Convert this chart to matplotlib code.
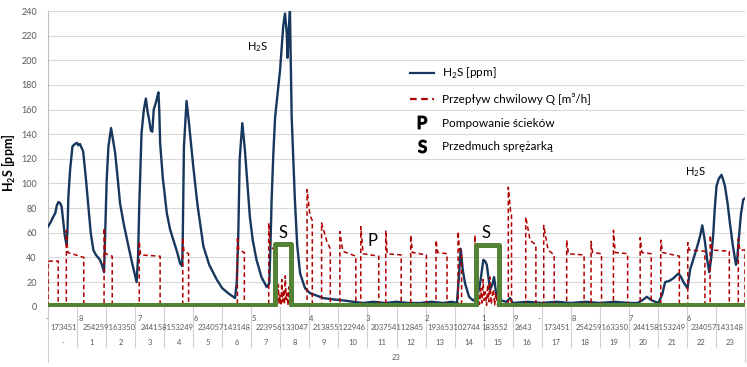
import matplotlib.pyplot as plt
from matplotlib.lines import Line2D

plt.rcParams['font.family'] = ['Lato', 'DejaVu Sans']
plt.rcParams['mathtext.fontset'] = 'custom'
plt.rcParams['mathtext.rm'] = 'Lato'
plt.rcParams['mathtext.bf'] = 'Lato:bold'

# H2S [ppm] against time of day (hours)
h2s_t = [0.00, 0.10, 0.18, 0.25, 0.30, 0.36, 0.42, 0.47, 0.53, 0.58, 0.64, 0.67, 0.70, 0.76, 0.84,
         0.92, 1.00, 1.04, 1.10, 1.21, 1.30, 1.39, 1.47, 1.56, 1.65, 1.79, 1.87, 1.93, 1.97, 2.02,
         2.08, 2.17, 2.22, 2.31, 2.40, 2.48, 2.60, 2.77, 2.90, 3.05, 3.10, 3.14, 3.22, 3.30, 3.37,
         3.43, 3.48, 3.54, 3.59, 3.64, 3.68, 3.74, 3.80, 3.83, 3.86, 3.95, 4.09, 4.20, 4.32, 4.45,
         4.55, 4.62, 4.64, 4.68, 4.77, 4.85, 5.00, 5.15, 5.35, 5.55, 5.81, 6.00, 6.20, 6.44, 6.50,
         6.55, 6.60, 6.69, 6.78, 6.87, 6.95, 7.05, 7.18, 7.35, 7.53, 7.62, 7.66, 7.70, 7.76, 7.82,
         7.90, 7.99, 8.05, 8.10, 8.16, 8.22, 8.25, 8.29, 8.33, 8.39, 8.50, 8.58, 8.68, 8.85, 9.02,
         9.25, 9.48, 9.80, 10.2, 10.5, 10.85, 11.2, 11.6, 12.0, 12.4, 12.8, 13.2, 13.6, 13.9, 14.08,
         14.15, 14.21, 14.28, 14.36, 14.50, 14.64, 14.78, 14.88, 14.99, 15.05, 15.11, 15.22, 15.30,
         15.36, 15.45, 15.60, 15.79, 15.91, 16.0, 16.5, 17.0, 17.5, 18.0, 18.5, 19.0, 19.5, 20.0,
         20.3, 20.45, 20.62, 20.80, 21.02, 21.15, 21.25, 21.40, 21.53, 21.62, 21.71, 21.80, 21.88,
         22.02, 22.11, 22.20, 22.28, 22.37, 22.45, 22.53, 22.57, 22.62, 22.70, 22.77, 22.84, 22.91,
         22.96, 23.02, 23.10, 23.19, 23.25, 23.31, 23.40, 23.48, 23.58, 23.69, 23.73, 23.79, 23.86,
         23.94, 24.0]
h2s_v = [65, 69, 73, 76, 82, 85, 84, 81, 68, 57, 50, 62, 89, 111, 130,
         132, 133, 131, 132, 126, 105, 81, 60, 46, 42, 38, 33, 28, 60, 103,
         130, 145, 138, 125, 104, 84, 68, 49, 35, 20, 40, 81, 141, 160, 169,
         158, 152, 143, 142, 160, 163, 168, 174, 160, 133, 105, 76, 63, 54, 44,
         35, 33, 57, 130, 167, 150, 114, 82, 49, 34, 22, 15, 11, 7, 20,
         57, 120, 149, 127, 98, 73, 54, 38, 24, 16, 19, 50, 87, 125, 154,
         172, 192, 212, 228, 238, 222, 202, 225, 240, 154, 87, 50, 27, 15, 11,
         9, 7, 6, 5, 4, 3, 4, 3, 4, 3, 3, 4, 3, 4, 3,
         25, 47, 30, 19, 8, 5, 8, 19, 38, 37, 34, 14, 18,
         24, 7, 5, 4, 7, 3, 4, 3, 4, 3, 4, 3, 4, 3,
         3, 5, 8, 5, 3, 10, 20, 21, 23, 25, 27, 24, 20,
         15, 30, 37, 43, 50, 57, 66, 60, 53, 38, 28, 40, 60,
         80, 98, 104, 107, 103, 98, 84, 68, 50, 34, 38, 56, 75,
         87, 88]

# pumping cycles of the flow Q [m3/h]
q_on = [0.00, 0.63, 1.93, 3.14, 4.64, 6.52, 7.60, 8.92, 9.42, 10.05, 10.77, 11.63, 12.49, 13.36,
        14.12, 14.70, 15.85, 16.45, 17.07, 17.86, 18.70, 19.47, 20.39, 21.10, 22.03, 22.80, 23.77]
q_peak = [37, 62, 64, 53, 56, 57, 68, 95, 68, 61, 65, 62, 58, 54,
          61, 58, 97, 73, 66, 54, 53, 62, 56, 54, 52, 58, 55]
q_knee = [0.02, 0.68, 1.98, 3.19, 4.68, 6.57, 7.65, 9.02, 9.60, 10.15, 10.85, 11.68, 12.55, 13.42,
          14.17, 14.73, 15.93, 16.60, 17.22, 17.92, 18.75, 19.53, 20.45, 21.16, 22.08, 22.86, 23.82]
q_level = [37, 44, 43, 42, 45, 46, 49, 74, 53, 45, 43, 43, 44, 44,
           46, 40, 77, 54, 46, 43, 44, 44, 44, 44, 46, 46, 46]
q_off = [0.35, 1.23, 2.21, 3.86, 4.84, 6.76, 7.80, 9.10, 9.72, 10.60, 11.39, 12.16, 13.03, 13.74,
         14.24, 14.76, 15.96, 16.80, 17.43, 18.46, 19.06, 19.96, 20.77, 21.74, 22.62, 23.46, 24.00]
q_end = [37, 40, 41, 41, 43, 44, 46, 70, 47, 41, 41, 42, 42, 43,
         45, 38, 75, 50, 42, 42, 43, 43, 43, 41, 45, 45, 46]

# flow noise while the compressor blows
noise_t = [7.84, 7.87, 7.90, 7.93, 7.96, 7.99, 8.02, 8.05, 8.08, 8.11, 8.14, 8.17, 8.20, 8.23,
           8.26, 8.29, 8.32, 8.35,
           14.79, 14.82, 14.86, 14.90, 14.94, 14.98, 15.02, 15.06, 15.10, 15.14, 15.18, 15.22,
           15.26, 15.30, 15.34, 15.38, 15.42, 15.46, 15.50]
noise_v = [0, 12, 2, 18, 3, 9, 1, 22, 4, 14, 2, 25, 6, 11, 1, 16, 3, 0,
           0, 10, 2, 15, 3, 22, 5, 12, 1, 18, 4, 24, 2, 9, 14, 1, 11, 3, 0]

# compressor blow (S)
blow_t = [0, 7.82, 7.82, 8.37, 8.37, 14.74, 14.74, 15.53, 15.53, 24]
blow_v = [1, 1, 51, 51, 1, 1, 50, 50, 1, 1]

# multi-level category labels
row1_t = [-0.05, 1.14, 3.15, 5.10, 7.07, 9.06, 11.03, 13.04, 14.99, 16.12, 16.92, 18.09, 20.07, 22.08]
row1 = ['-', '8', '7', '6', '5', '4', '3', '2', '1', '9', '-', '8', '7', '6']
row2_t = [0.55, 2.09, 4.09, 6.07, 8.05, 10.03, 12.01, 13.99, 15.39, 16.36, 17.52, 19.09, 21.06, 23.04]
row2 = ['173451', '254259163350', '244158153249', '234057143148', '223956133047', '213855122946',
        '203754112845', '193653102744', '183552', '2643', '173451', '254259163350',
        '244158153249', '234057143148']
hours = ['-'] + [str(i) for i in range(1, 24)]

navy = '#17375E'
red = '#B00000'
green = '#548235'
grey = '#595959'

# build the stepped flow series
pts = []
for i in range(len(q_on)):
    pts += [(q_on[i], 0), (q_on[i], q_peak[i]), (q_knee[i], q_level[i]),
            (q_off[i], q_end[i]), (q_off[i], 0)]
pts += list(zip(noise_t, noise_v))
pts = sorted(pts, key=lambda p: p[0])
flow_t = [p[0] for p in pts]
flow_v = [p[1] for p in pts]

fig = plt.figure(figsize=(7.47, 3.67), dpi=100)
ax = fig.add_axes([0.0643, 0.1643, 0.9330, 0.8057])

ax.plot(h2s_t, h2s_v, color=navy, lw=1.7, zorder=3)
ax.plot(flow_t, flow_v, color=red, lw=1.1, dashes=(3, 2), zorder=4)
ax.plot(blow_t, blow_v, color=green, lw=3.6, solid_joinstyle='round', zorder=5)

ax.set_xlim(0, 24)
ax.set_ylim(0, 240)
ax.set_yticks(range(0, 241, 20))
ax.set_xticks([])
ax.tick_params(axis='y', length=0, labelsize=6.5, labelcolor=grey, pad=8)
ax.grid(axis='y', color='#D9D9D9', lw=0.8)
ax.set_axisbelow(True)
for s in ['top', 'right', 'bottom']:
    ax.spines[s].set_visible(False)
ax.spines['left'].set_color('#BFBFBF')
fig.text(9 / 747, 1 - 163 / 367, r'H$_\mathregular{2}$S [ppm]', fontsize=9, fontweight='bold',
         rotation=90, ha='center', va='center')

# notes on the chart
ax.text(7.23, 211, r'H$_\mathregular{2}$S', fontsize=8, ha='center', va='center')
ax.text(22.31, 109, r'H$_\mathregular{2}$S', fontsize=8, ha='center', va='center')
ax.text(8.09, 60, 'S', fontsize=12, ha='center', va='center')
ax.text(11.16, 53, 'P', fontsize=12, ha='center', va='center')
ax.text(15.08, 60, 'S', fontsize=12, ha='center', va='center')

# category axis made of several label rows
tr = ax.get_xaxis_transform()
for t, s in zip(row1_t, row1):
    ax.text(t, -0.039, s, transform=tr, fontsize=5.5, color=grey, ha='center', va='center')
for t, s in zip(row2_t, row2):
    ax.text(t, -0.070, s, transform=tr, fontsize=5.5, color=grey, ha='center', va='center')
for i, s in enumerate(hours):
    ax.text(i + 0.5, -0.122, s, transform=tr, fontsize=5.5, color=grey, ha='center', va='center')
ax.text(12, -0.171, '23', transform=tr, fontsize=5.5, color=grey, ha='center', va='center')
for i in range(1, 24):
    ax.plot([i, i], [0, -0.135], transform=tr, color='#D0D0D0', lw=0.8, clip_on=False)
for i in [0, 24]:
    ax.plot([i, i], [0, -0.186], transform=tr, color='#D0D0D0', lw=0.8, clip_on=False)

handles = [
    Line2D([], [], color=navy, lw=1.6),
    Line2D([], [], color=red, lw=1.6, dashes=(3, 2)),
    Line2D([], [], ls='none', marker=r'$\mathrm{P}$', markersize=9, color='black'),
    Line2D([], [], ls='none', marker=r'$\mathrm{S}$', markersize=9, color='black'),
]
labels = [r'H$_\mathregular{2}$S [ppm]', 'Przepływ chwilowy Q [m³/h]',
          'Pompowanie ścieków', 'Przedmuch sprężarką']
leg = ax.legend(handles, labels, loc='upper left', bbox_to_anchor=(0.511, 0.835),
                frameon=False, fontsize=8.5, labelspacing=1.05, handlelength=2.0,
                handletextpad=0.7, borderpad=0)

fig.savefig('out.png', dpi=100)
